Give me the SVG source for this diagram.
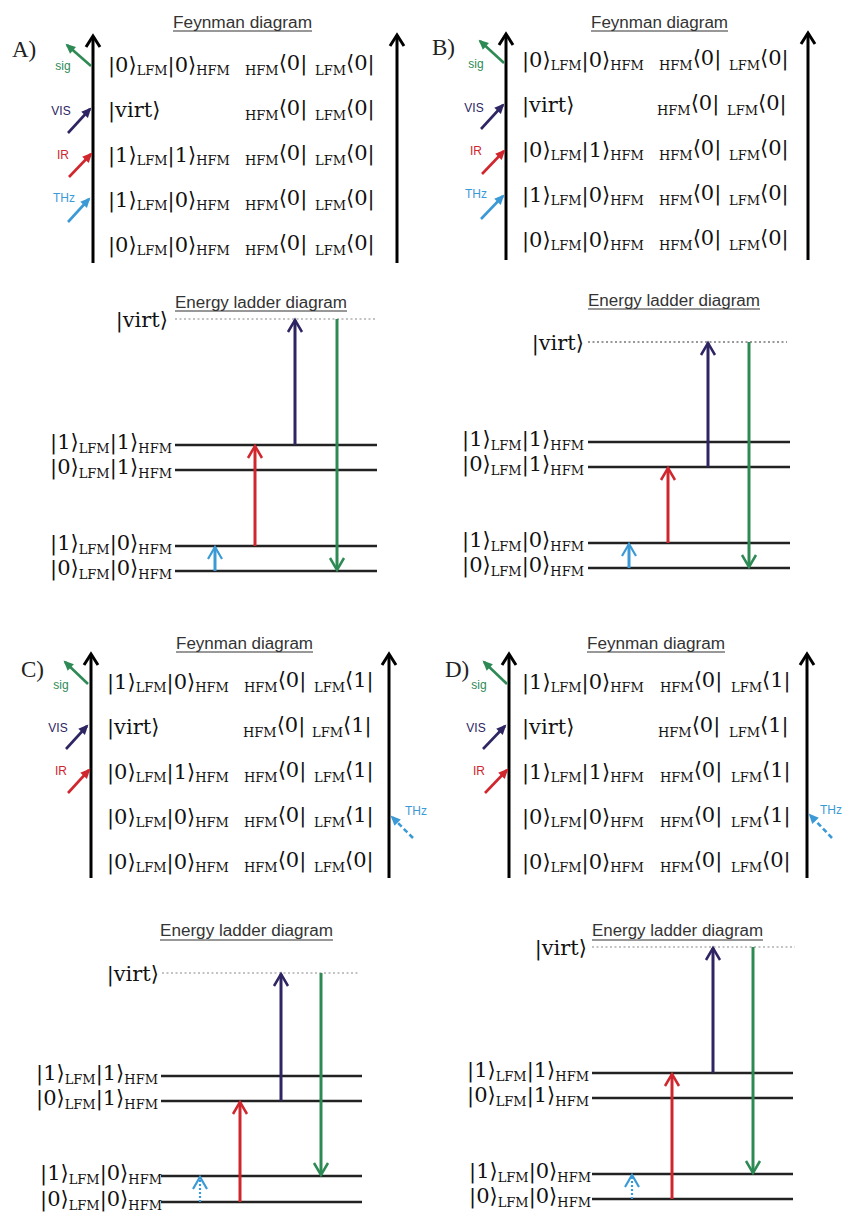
<svg xmlns="http://www.w3.org/2000/svg" width="843" height="1213" viewBox="0 0 843 1213">
  <style>
    .ket { font-family: "DejaVu Serif", "Liberation Serif", serif; font-size: 21px; fill: #111; }
    .sub { font-size: 13px; }
    .title { font-family: "Liberation Sans", Arial, sans-serif; font-size: 16px; fill: #333; }
    .uline { stroke: #333; stroke-width: 1.2; }
    .panel { font-family: "Liberation Serif", "Times New Roman", serif; font-size: 23px; fill: #222; }
    .lbl { font-family: "Liberation Sans", Arial, sans-serif; font-size: 12px; text-anchor: middle; }
    .axis { stroke: #000; stroke-width: 3; fill: none; marker-end: url(#axisHead); }
    .level { stroke: #222; stroke-width: 2.5; }
    .virt { stroke: #888; stroke-width: 1.2; stroke-dasharray: 2 2.5; }
    .virtDark { stroke: #333; stroke-width: 1; stroke-dasharray: 2 2.5; }
    .beam { stroke-width: 2.6; fill: none; }
    .trans { stroke-width: 3; fill: none; }
    .g { stroke: #2e8a55; } .gt { fill: #2e8a55; }
    .p { stroke: #2e2563; } .pt { fill: #2e2563; }
    .r { stroke: #d0262d; } .rt { fill: #d0262d; }
    .b { stroke: #3b9ad6; } .bt { fill: #3b9ad6; }
    .dash { stroke-dasharray: 5 3; }
    .dot { stroke-width: 2.2; stroke-dasharray: 2 2; }
  </style>
  <defs>
    <marker id="axisHead" markerUnits="userSpaceOnUse" orient="auto" markerWidth="1" markerHeight="1" overflow="visible">
      <path d="M-11,-7 L0,0 L-11,7" fill="none" stroke="#000" stroke-width="3"/>
    </marker>
    <marker id="fG" markerUnits="userSpaceOnUse" orient="auto" markerWidth="1" markerHeight="1" overflow="visible"><path d="M2,0 L-8,-4.5 L-8,4.5 Z" fill="#2e8a55"/></marker>
    <marker id="fP" markerUnits="userSpaceOnUse" orient="auto" markerWidth="1" markerHeight="1" overflow="visible"><path d="M2,0 L-8,-4.5 L-8,4.5 Z" fill="#2e2563"/></marker>
    <marker id="fR" markerUnits="userSpaceOnUse" orient="auto" markerWidth="1" markerHeight="1" overflow="visible"><path d="M2,0 L-8,-4.5 L-8,4.5 Z" fill="#d0262d"/></marker>
    <marker id="fB" markerUnits="userSpaceOnUse" orient="auto" markerWidth="1" markerHeight="1" overflow="visible"><path d="M2,0 L-8,-4.5 L-8,4.5 Z" fill="#3b9ad6"/></marker>
    <marker id="oG" markerUnits="userSpaceOnUse" orient="auto" markerWidth="1" markerHeight="1" overflow="visible"><path d="M-12,-7 L0,0 L-12,7" fill="none" stroke="#2e8a55" stroke-width="2.5"/></marker>
    <marker id="oP" markerUnits="userSpaceOnUse" orient="auto" markerWidth="1" markerHeight="1" overflow="visible"><path d="M-12,-7 L0,0 L-12,7" fill="none" stroke="#2e2563" stroke-width="2.5"/></marker>
    <marker id="oR" markerUnits="userSpaceOnUse" orient="auto" markerWidth="1" markerHeight="1" overflow="visible"><path d="M-12,-7 L0,0 L-12,7" fill="none" stroke="#d0262d" stroke-width="2.5"/></marker>
    <marker id="oB" markerUnits="userSpaceOnUse" orient="auto" markerWidth="1" markerHeight="1" overflow="visible"><path d="M-12,-7 L0,0 L-12,7" fill="none" stroke="#3b9ad6" stroke-width="2.2"/></marker>
  </defs>

  <rect width="843" height="1213" fill="#fff"/>

  <!-- ===================== Panel A ===================== -->
  <g id="panelA">
    <text class="panel" x="12" y="57">A)</text>
    <g id="A-feynman">
      <text class="title" x="173" y="28" textLength="139" lengthAdjust="spacingAndGlyphs">Feynman diagram</text>
      <line class="uline" x1="173" y1="31" x2="312" y2="31"/>
      <text class="ket" x="108" y="72">|0⟩<tspan class="sub" dy="3">LFM</tspan><tspan dy="-3">|0⟩</tspan><tspan class="sub" dy="3">HFM</tspan></text>
      <text class="ket" y="72"><tspan class="sub" x="245" dy="3">HFM</tspan><tspan dy="-5">⟨0|</tspan><tspan class="sub" x="315" dy="5">LFM</tspan><tspan dy="-5">⟨0|</tspan></text>
      <text class="ket" x="108" y="117">|virt⟩</text>
      <text class="ket" y="117"><tspan class="sub" x="245" dy="3">HFM</tspan><tspan dy="-5">⟨0|</tspan><tspan class="sub" x="315" dy="5">LFM</tspan><tspan dy="-5">⟨0|</tspan></text>
      <text class="ket" x="108" y="162">|1⟩<tspan class="sub" dy="3">LFM</tspan><tspan dy="-3">|1⟩</tspan><tspan class="sub" dy="3">HFM</tspan></text>
      <text class="ket" y="162"><tspan class="sub" x="245" dy="3">HFM</tspan><tspan dy="-5">⟨0|</tspan><tspan class="sub" x="315" dy="5">LFM</tspan><tspan dy="-5">⟨0|</tspan></text>
      <text class="ket" x="108" y="207">|1⟩<tspan class="sub" dy="3">LFM</tspan><tspan dy="-3">|0⟩</tspan><tspan class="sub" dy="3">HFM</tspan></text>
      <text class="ket" y="207"><tspan class="sub" x="245" dy="3">HFM</tspan><tspan dy="-5">⟨0|</tspan><tspan class="sub" x="315" dy="5">LFM</tspan><tspan dy="-5">⟨0|</tspan></text>
      <text class="ket" x="108" y="252">|0⟩<tspan class="sub" dy="3">LFM</tspan><tspan dy="-3">|0⟩</tspan><tspan class="sub" dy="3">HFM</tspan></text>
      <text class="ket" y="252"><tspan class="sub" x="245" dy="3">HFM</tspan><tspan dy="-5">⟨0|</tspan><tspan class="sub" x="315" dy="5">LFM</tspan><tspan dy="-5">⟨0|</tspan></text>
      <text class="lbl gt" x="63" y="70">sig</text>
      <text class="lbl pt" x="61" y="115">VIS</text>
      <text class="lbl rt" x="63" y="159">IR</text>
      <text class="lbl bt" x="64" y="202">THz</text>
    </g>
    <g id="A-ladder">
      <text class="title" x="175" y="308" textLength="172" lengthAdjust="spacingAndGlyphs">Energy ladder diagram</text>
      <line class="uline" x1="175" y1="311" x2="347" y2="311"/>
      <text class="ket" x="168" y="327" text-anchor="end">|virt⟩</text>
      <text class="ket" x="172" y="449" text-anchor="end">|1⟩<tspan class="sub" dy="4">LFM</tspan><tspan dy="-4">|1⟩</tspan><tspan class="sub" dy="4">HFM</tspan></text>
      <text class="ket" x="172" y="474" text-anchor="end">|0⟩<tspan class="sub" dy="4">LFM</tspan><tspan dy="-4">|1⟩</tspan><tspan class="sub" dy="4">HFM</tspan></text>
      <text class="ket" x="172" y="550" text-anchor="end">|1⟩<tspan class="sub" dy="4">LFM</tspan><tspan dy="-4">|0⟩</tspan><tspan class="sub" dy="4">HFM</tspan></text>
      <text class="ket" x="172" y="575" text-anchor="end">|0⟩<tspan class="sub" dy="4">LFM</tspan><tspan dy="-4">|0⟩</tspan><tspan class="sub" dy="4">HFM</tspan></text>
      <line class="virt" x1="175" y1="319" x2="375" y2="319"/>
      <line class="level" x1="175" y1="445" x2="377" y2="445"/>
      <line class="level" x1="175" y1="470" x2="377" y2="470"/>
      <line class="level" x1="175" y1="546" x2="377" y2="546"/>
      <line class="level" x1="175" y1="571" x2="377" y2="571"/>
    </g>
  </g>

  <!-- ===================== Panel B ===================== -->
  <g id="panelB">
    <text class="panel" x="432" y="55">B)</text>
    <g id="B-feynman">
      <text class="title" x="591" y="28" textLength="137" lengthAdjust="spacingAndGlyphs">Feynman diagram</text>
      <line class="uline" x1="591" y1="31" x2="728" y2="31"/>
      <text class="ket" x="522" y="67">|0⟩<tspan class="sub" dy="3">LFM</tspan><tspan dy="-3">|0⟩</tspan><tspan class="sub" dy="3">HFM</tspan></text>
      <text class="ket" y="67"><tspan class="sub" x="659" dy="3">HFM</tspan><tspan dy="-5">⟨0|</tspan><tspan class="sub" x="729" dy="5">LFM</tspan><tspan dy="-5">⟨0|</tspan></text>
      <text class="ket" x="522" y="112">|virt⟩</text>
      <text class="ket" y="112"><tspan class="sub" x="657" dy="3">HFM</tspan><tspan dy="-5">⟨0|</tspan><tspan class="sub" x="727" dy="5">LFM</tspan><tspan dy="-5">⟨0|</tspan></text>
      <text class="ket" x="522" y="157">|0⟩<tspan class="sub" dy="3">LFM</tspan><tspan dy="-3">|1⟩</tspan><tspan class="sub" dy="3">HFM</tspan></text>
      <text class="ket" y="157"><tspan class="sub" x="659" dy="3">HFM</tspan><tspan dy="-5">⟨0|</tspan><tspan class="sub" x="729" dy="5">LFM</tspan><tspan dy="-5">⟨0|</tspan></text>
      <text class="ket" x="522" y="202">|1⟩<tspan class="sub" dy="3">LFM</tspan><tspan dy="-3">|0⟩</tspan><tspan class="sub" dy="3">HFM</tspan></text>
      <text class="ket" y="202"><tspan class="sub" x="659" dy="3">HFM</tspan><tspan dy="-5">⟨0|</tspan><tspan class="sub" x="729" dy="5">LFM</tspan><tspan dy="-5">⟨0|</tspan></text>
      <text class="ket" x="522" y="247">|0⟩<tspan class="sub" dy="3">LFM</tspan><tspan dy="-3">|0⟩</tspan><tspan class="sub" dy="3">HFM</tspan></text>
      <text class="ket" y="247"><tspan class="sub" x="659" dy="3">HFM</tspan><tspan dy="-5">⟨0|</tspan><tspan class="sub" x="729" dy="5">LFM</tspan><tspan dy="-5">⟨0|</tspan></text>
      <text class="lbl gt" x="476" y="68">sig</text>
      <text class="lbl pt" x="474" y="112">VIS</text>
      <text class="lbl rt" x="476" y="155">IR</text>
      <text class="lbl bt" x="476" y="198">THz</text>
    </g>
    <g id="B-ladder">
      <text class="title" x="588" y="306" textLength="172" lengthAdjust="spacingAndGlyphs">Energy ladder diagram</text>
      <line class="uline" x1="588" y1="309" x2="760" y2="309"/>
      <text class="ket" x="584" y="350" text-anchor="end">|virt⟩</text>
      <text class="ket" x="584" y="446" text-anchor="end">|1⟩<tspan class="sub" dy="4">LFM</tspan><tspan dy="-4">|1⟩</tspan><tspan class="sub" dy="4">HFM</tspan></text>
      <text class="ket" x="584" y="471" text-anchor="end">|0⟩<tspan class="sub" dy="4">LFM</tspan><tspan dy="-4">|1⟩</tspan><tspan class="sub" dy="4">HFM</tspan></text>
      <text class="ket" x="584" y="547" text-anchor="end">|1⟩<tspan class="sub" dy="4">LFM</tspan><tspan dy="-4">|0⟩</tspan><tspan class="sub" dy="4">HFM</tspan></text>
      <text class="ket" x="584" y="572" text-anchor="end">|0⟩<tspan class="sub" dy="4">LFM</tspan><tspan dy="-4">|0⟩</tspan><tspan class="sub" dy="4">HFM</tspan></text>
      <line class="virtDark" x1="588" y1="342" x2="787" y2="342"/>
      <line class="level" x1="588" y1="442" x2="790" y2="442"/>
      <line class="level" x1="588" y1="467" x2="790" y2="467"/>
      <line class="level" x1="588" y1="543" x2="790" y2="543"/>
      <line class="level" x1="588" y1="568" x2="790" y2="568"/>
    </g>
  </g>

  <!-- ===================== Panel C ===================== -->
  <g id="panelC">
    <text class="panel" x="21" y="677">C)</text>
    <g id="C-feynman">
      <text class="title" x="176" y="649" textLength="137" lengthAdjust="spacingAndGlyphs">Feynman diagram</text>
      <line class="uline" x1="176" y1="652" x2="313" y2="652"/>
      <text class="ket" x="107" y="689">|1⟩<tspan class="sub" dy="3">LFM</tspan><tspan dy="-3">|0⟩</tspan><tspan class="sub" dy="3">HFM</tspan></text>
      <text class="ket" y="689"><tspan class="sub" x="244" dy="3">HFM</tspan><tspan dy="-5">⟨0|</tspan><tspan class="sub" x="314" dy="5">LFM</tspan><tspan dy="-5">⟨1|</tspan></text>
      <text class="ket" x="107" y="734">|virt⟩</text>
      <text class="ket" y="734"><tspan class="sub" x="243" dy="3">HFM</tspan><tspan dy="-5">⟨0|</tspan><tspan class="sub" x="312" dy="5">LFM</tspan><tspan dy="-5">⟨1|</tspan></text>
      <text class="ket" x="107" y="779">|0⟩<tspan class="sub" dy="3">LFM</tspan><tspan dy="-3">|1⟩</tspan><tspan class="sub" dy="3">HFM</tspan></text>
      <text class="ket" y="779"><tspan class="sub" x="244" dy="3">HFM</tspan><tspan dy="-5">⟨0|</tspan><tspan class="sub" x="314" dy="5">LFM</tspan><tspan dy="-5">⟨1|</tspan></text>
      <text class="ket" x="107" y="824">|0⟩<tspan class="sub" dy="3">LFM</tspan><tspan dy="-3">|0⟩</tspan><tspan class="sub" dy="3">HFM</tspan></text>
      <text class="ket" y="824"><tspan class="sub" x="244" dy="3">HFM</tspan><tspan dy="-5">⟨0|</tspan><tspan class="sub" x="314" dy="5">LFM</tspan><tspan dy="-5">⟨1|</tspan></text>
      <text class="ket" x="107" y="869">|0⟩<tspan class="sub" dy="3">LFM</tspan><tspan dy="-3">|0⟩</tspan><tspan class="sub" dy="3">HFM</tspan></text>
      <text class="ket" y="869"><tspan class="sub" x="244" dy="3">HFM</tspan><tspan dy="-5">⟨0|</tspan><tspan class="sub" x="314" dy="5">LFM</tspan><tspan dy="-5">⟨0|</tspan></text>
      <text class="lbl gt" x="61" y="689">sig</text>
      <text class="lbl pt" x="58" y="732">VIS</text>
      <text class="lbl rt" x="61" y="775">IR</text>
      <text class="lbl bt" x="416" y="815">THz</text>
    </g>
    <g id="C-ladder">
      <text class="title" x="160" y="936" textLength="173" lengthAdjust="spacingAndGlyphs">Energy ladder diagram</text>
      <line class="uline" x1="160" y1="940" x2="333" y2="940"/>
      <text class="ket" x="159" y="981" text-anchor="end">|virt⟩</text>
      <text class="ket" x="158" y="1080" text-anchor="end">|1⟩<tspan class="sub" dy="4">LFM</tspan><tspan dy="-4">|1⟩</tspan><tspan class="sub" dy="4">HFM</tspan></text>
      <text class="ket" x="158" y="1105" text-anchor="end">|0⟩<tspan class="sub" dy="4">LFM</tspan><tspan dy="-4">|1⟩</tspan><tspan class="sub" dy="4">HFM</tspan></text>
      <text class="ket" x="162" y="1180" text-anchor="end">|1⟩<tspan class="sub" dy="4">LFM</tspan><tspan dy="-4">|0⟩</tspan><tspan class="sub" dy="4">HFM</tspan></text>
      <text class="ket" x="162" y="1206" text-anchor="end">|0⟩<tspan class="sub" dy="4">LFM</tspan><tspan dy="-4">|0⟩</tspan><tspan class="sub" dy="4">HFM</tspan></text>
      <line class="virt" x1="162" y1="973" x2="358" y2="973"/>
      <line class="level" x1="161" y1="1076" x2="362" y2="1076"/>
      <line class="level" x1="161" y1="1101" x2="362" y2="1101"/>
      <line class="level" x1="161" y1="1176" x2="362" y2="1176"/>
      <line class="level" x1="161" y1="1202" x2="362" y2="1202"/>
    </g>
  </g>

  <!-- ===================== Panel D ===================== -->
  <g id="panelD">
    <text class="panel" x="445" y="677">D)</text>
    <g id="D-feynman">
      <text class="title" x="587" y="649" textLength="138" lengthAdjust="spacingAndGlyphs">Feynman diagram</text>
      <line class="uline" x1="587" y1="652" x2="725" y2="652"/>
      <text class="ket" x="522" y="689">|1⟩<tspan class="sub" dy="3">LFM</tspan><tspan dy="-3">|0⟩</tspan><tspan class="sub" dy="3">HFM</tspan></text>
      <text class="ket" y="689"><tspan class="sub" x="660" dy="3">HFM</tspan><tspan dy="-5">⟨0|</tspan><tspan class="sub" x="731" dy="5">LFM</tspan><tspan dy="-5">⟨1|</tspan></text>
      <text class="ket" x="522" y="734">|virt⟩</text>
      <text class="ket" y="734"><tspan class="sub" x="658" dy="3">HFM</tspan><tspan dy="-5">⟨0|</tspan><tspan class="sub" x="729" dy="5">LFM</tspan><tspan dy="-5">⟨1|</tspan></text>
      <text class="ket" x="522" y="779">|1⟩<tspan class="sub" dy="3">LFM</tspan><tspan dy="-3">|1⟩</tspan><tspan class="sub" dy="3">HFM</tspan></text>
      <text class="ket" y="779"><tspan class="sub" x="660" dy="3">HFM</tspan><tspan dy="-5">⟨0|</tspan><tspan class="sub" x="731" dy="5">LFM</tspan><tspan dy="-5">⟨1|</tspan></text>
      <text class="ket" x="522" y="824">|0⟩<tspan class="sub" dy="3">LFM</tspan><tspan dy="-3">|0⟩</tspan><tspan class="sub" dy="3">HFM</tspan></text>
      <text class="ket" y="824"><tspan class="sub" x="660" dy="3">HFM</tspan><tspan dy="-5">⟨0|</tspan><tspan class="sub" x="731" dy="5">LFM</tspan><tspan dy="-5">⟨1|</tspan></text>
      <text class="ket" x="522" y="869">|0⟩<tspan class="sub" dy="3">LFM</tspan><tspan dy="-3">|0⟩</tspan><tspan class="sub" dy="3">HFM</tspan></text>
      <text class="ket" y="869"><tspan class="sub" x="660" dy="3">HFM</tspan><tspan dy="-5">⟨0|</tspan><tspan class="sub" x="731" dy="5">LFM</tspan><tspan dy="-5">⟨0|</tspan></text>
      <text class="lbl gt" x="479" y="689">sig</text>
      <text class="lbl pt" x="476" y="732">VIS</text>
      <text class="lbl rt" x="479" y="775">IR</text>
      <text class="lbl bt" x="831" y="814">THz</text>
    </g>
    <g id="D-ladder">
      <text class="title" x="592" y="936" textLength="171" lengthAdjust="spacingAndGlyphs">Energy ladder diagram</text>
      <line class="uline" x1="592" y1="940" x2="763" y2="940"/>
      <text class="ket" x="587" y="955" text-anchor="end">|virt⟩</text>
      <text class="ket" x="589" y="1077" text-anchor="end">|1⟩<tspan class="sub" dy="4">LFM</tspan><tspan dy="-4">|1⟩</tspan><tspan class="sub" dy="4">HFM</tspan></text>
      <text class="ket" x="589" y="1102" text-anchor="end">|0⟩<tspan class="sub" dy="4">LFM</tspan><tspan dy="-4">|1⟩</tspan><tspan class="sub" dy="4">HFM</tspan></text>
      <text class="ket" x="591" y="1178" text-anchor="end">|1⟩<tspan class="sub" dy="4">LFM</tspan><tspan dy="-4">|0⟩</tspan><tspan class="sub" dy="4">HFM</tspan></text>
      <text class="ket" x="591" y="1203" text-anchor="end">|0⟩<tspan class="sub" dy="4">LFM</tspan><tspan dy="-4">|0⟩</tspan><tspan class="sub" dy="4">HFM</tspan></text>
      <line class="virt" x1="592" y1="947" x2="795" y2="947"/>
      <line class="level" x1="592" y1="1073" x2="793" y2="1073"/>
      <line class="level" x1="592" y1="1098" x2="793" y2="1098"/>
      <line class="level" x1="592" y1="1174" x2="793" y2="1174"/>
      <line class="level" x1="592" y1="1199" x2="793" y2="1199"/>
    </g>
  </g>

  <!-- ===================== Connectors: time axes, beams, transitions ===================== -->
  <g id="connectors">
    <!-- time axes (ket side left, bra side right) -->
    <line class="axis" x1="93" y1="263" x2="93" y2="36"/>
    <line class="axis" x1="397" y1="263" x2="397" y2="35"/>
    <line class="axis" x1="506" y1="260" x2="506" y2="34"/>
    <line class="axis" x1="808" y1="260" x2="808" y2="33"/>
    <line class="axis" x1="91" y1="878" x2="91" y2="654"/>
    <line class="axis" x1="389" y1="878" x2="389" y2="654"/>
    <line class="axis" x1="509" y1="878" x2="509" y2="654"/>
    <line class="axis" x1="807" y1="878" x2="807" y2="654"/>

    <!-- A: field interactions -->
    <line class="beam g" x1="91" y1="66" x2="67" y2="45" marker-end="url(#fG)"/>
    <line class="beam p" x1="68" y1="133" x2="90" y2="109" marker-end="url(#fP)"/>
    <line class="beam r" x1="69" y1="177" x2="91" y2="154" marker-end="url(#fR)"/>
    <line class="beam b" x1="68" y1="222" x2="89" y2="199" marker-end="url(#fB)"/>
    <!-- B: field interactions -->
    <line class="beam g" x1="504" y1="63" x2="480" y2="41" marker-end="url(#fG)"/>
    <line class="beam p" x1="481" y1="129" x2="503" y2="105" marker-end="url(#fP)"/>
    <line class="beam r" x1="482" y1="174" x2="504" y2="151" marker-end="url(#fR)"/>
    <line class="beam b" x1="481" y1="219" x2="503" y2="196" marker-end="url(#fB)"/>
    <!-- C: field interactions -->
    <line class="beam g" x1="88" y1="684" x2="65" y2="662" marker-end="url(#fG)"/>
    <line class="beam p" x1="66" y1="749" x2="87" y2="726" marker-end="url(#fP)"/>
    <line class="beam r" x1="68" y1="793" x2="89" y2="770" marker-end="url(#fR)"/>
    <line class="beam b dash" x1="413" y1="838" x2="392" y2="817" marker-end="url(#fB)"/>
    <!-- D: field interactions -->
    <line class="beam g" x1="507" y1="684" x2="484" y2="662" marker-end="url(#fG)"/>
    <line class="beam p" x1="483" y1="749" x2="505" y2="726" marker-end="url(#fP)"/>
    <line class="beam r" x1="485" y1="793" x2="507" y2="770" marker-end="url(#fR)"/>
    <line class="beam b dash" x1="832" y1="838" x2="810" y2="815" marker-end="url(#fB)"/>

    <!-- A: ladder transitions -->
    <line class="trans b" x1="215" y1="571" x2="215" y2="547" marker-end="url(#oB)"/>
    <line class="trans r" x1="255" y1="546" x2="255" y2="446" marker-end="url(#oR)"/>
    <line class="trans p" x1="295" y1="445" x2="295" y2="320" marker-end="url(#oP)"/>
    <line class="trans g" x1="337" y1="319" x2="337" y2="570" marker-end="url(#oG)"/>
    <!-- B: ladder transitions -->
    <line class="trans b" x1="629" y1="568" x2="629" y2="544" marker-end="url(#oB)"/>
    <line class="trans r" x1="668" y1="543" x2="668" y2="468" marker-end="url(#oR)"/>
    <line class="trans p" x1="708" y1="467" x2="708" y2="343" marker-end="url(#oP)"/>
    <line class="trans g" x1="749" y1="342" x2="749" y2="567" marker-end="url(#oG)"/>
    <!-- C: ladder transitions -->
    <line class="b dot" x1="200" y1="1202" x2="200" y2="1177" fill="none" marker-end="url(#oB)"/>
    <line class="trans r" x1="240" y1="1202" x2="240" y2="1102" marker-end="url(#oR)"/>
    <line class="trans p" x1="281" y1="1101" x2="281" y2="974" marker-end="url(#oP)"/>
    <line class="trans g" x1="321" y1="973" x2="321" y2="1175" marker-end="url(#oG)"/>
    <!-- D: ladder transitions -->
    <line class="b dot" x1="632" y1="1199" x2="632" y2="1175" fill="none" marker-end="url(#oB)"/>
    <line class="trans r" x1="672" y1="1199" x2="672" y2="1074" marker-end="url(#oR)"/>
    <line class="trans p" x1="713" y1="1073" x2="713" y2="948" marker-end="url(#oP)"/>
    <line class="trans g" x1="753" y1="947" x2="753" y2="1173" marker-end="url(#oG)"/>
  </g>
</svg>
